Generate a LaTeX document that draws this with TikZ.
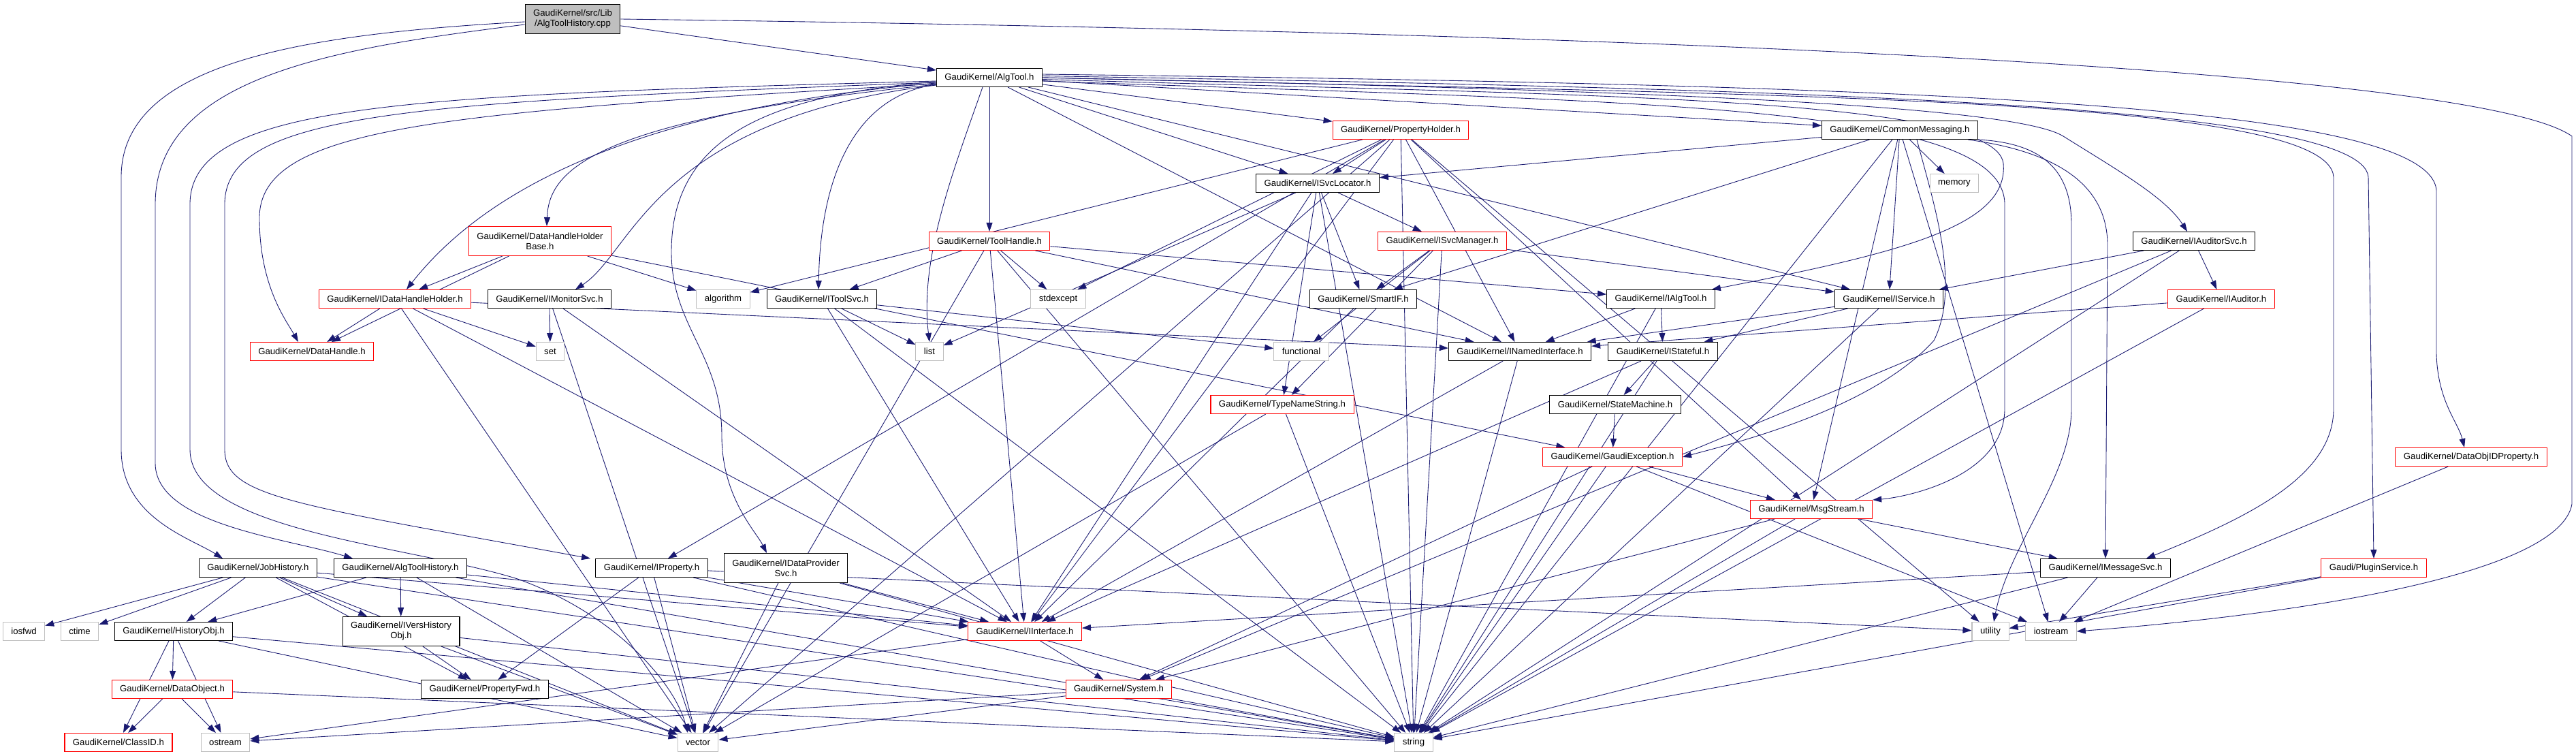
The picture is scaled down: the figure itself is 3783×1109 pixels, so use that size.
\documentclass[tikz,border=0pt]{standalone}
\usepackage{fontspec}
\setmainfont{Liberation Sans}
\usetikzlibrary{arrows.meta,backgrounds}
\definecolor{navy}{HTML}{191970}
\definecolor{boxgray}{HTML}{BFBFBF}
\begin{document}
\begin{tikzpicture}[x=0.02cm,y=-0.02cm,
  hdr/.style={draw=black,fill=white,line width=0.6pt,minimum height=0.54cm,inner xsep=0.24cm,inner ysep=0pt,align=center,font={\fontsize{7.5}{8.6}\selectfont}},
  redhdr/.style={hdr,draw=red},
  syshdr/.style={hdr,draw=boxgray},
  twoline/.style={minimum height=0.86cm},
  incl/.style={draw=navy,line width=0.5pt,-{Triangle[length=0.26cm,width=0.18cm]}}]
\useasboundingbox (0,0) rectangle (3783,1109);

\node[hdr,twoline,fill=boxgray] (root) at (841,28) {GaudiKernel/src/Lib\\/AlgToolHistory.cpp};
\node[hdr] (algtool) at (1453,114) {GaudiKernel/AlgTool.h};
\node[redhdr] (toolhandle) at (1453,354) {GaudiKernel/ToolHandle.h};
\node[redhdr] (propholder) at (2057,191) {GaudiKernel/PropertyHolder.h};
\node[hdr] (commsg) at (2790,191) {GaudiKernel/CommonMessaging.h};
\node[syshdr] (memory) at (2870,269) {memory};
\node[hdr] (svcloc) at (1935,269) {GaudiKernel/ISvcLocator.h};
\node[redhdr] (svcmgr) at (2118,354) {GaudiKernel/ISvcManager.h};
\node[hdr] (auditorsvc) at (3222,354) {GaudiKernel/IAuditorSvc.h};
\node[redhdr,twoline] (dhhbase) at (793,354) {GaudiKernel/DataHandleHolder\\Base.h};
\node[redhdr] (idhh) at (580,439) {GaudiKernel/IDataHandleHolder.h};
\node[hdr] (monsvc) at (807,439) {GaudiKernel/IMonitorSvc.h};
\node[redhdr] (datahandle) at (458,516) {GaudiKernel/DataHandle.h};
\node[syshdr] (set) at (808,516) {set};
\node[syshdr] (algorithm) at (1062,439) {algorithm};
\node[hdr] (toolsvc) at (1207,439) {GaudiKernel/IToolSvc.h};
\node[syshdr] (stdexcept) at (1554,439) {stdexcept};
\node[syshdr] (list) at (1365,516) {list};
\node[syshdr] (functional) at (1911,516) {functional};
\node[redhdr] (typename) at (1883,594) {GaudiKernel/TypeNameString.h};
\node[hdr] (smartif) at (2002,439) {GaudiKernel/SmartIF.h};
\node[hdr] (ialgtool) at (2439,439) {GaudiKernel/IAlgTool.h};
\node[hdr] (iservice) at (2774,439) {GaudiKernel/IService.h};
\node[hdr] (named) at (2232,516) {GaudiKernel/INamedInterface.h};
\node[hdr] (stateful) at (2442,516) {GaudiKernel/IStateful.h};
\node[hdr] (statemach) at (2372,594) {GaudiKernel/StateMachine.h};
\node[redhdr] (gexc) at (2368,671) {GaudiKernel/GaudiException.h};
\node[redhdr] (iauditor) at (3262,439) {GaudiKernel/IAuditor.h};
\node[redhdr] (dataobjid) at (3629,671) {GaudiKernel/DataObjIDProperty.h};
\node[redhdr] (msgstream) at (2660,748) {GaudiKernel/MsgStream.h};
\node[hdr] (msgsvc) at (3092,834) {GaudiKernel/IMessageSvc.h};
\node[redhdr] (plugin) at (3486,834) {Gaudi/PluginService.h};
\node[syshdr] (utility) at (2923,927) {utility};
\node[syshdr] (iostream) at (3012,927) {iostream};
\node[hdr] (jobhist) at (379,834) {GaudiKernel/JobHistory.h};
\node[hdr] (athist) at (588,834) {GaudiKernel/AlgToolHistory.h};
\node[hdr] (iprop) at (957,834) {GaudiKernel/IProperty.h};
\node[hdr,twoline] (dataprov) at (1154,834) {GaudiKernel/IDataProvider\\Svc.h};
\node[syshdr] (iosfwd) at (35,927) {iosfwd};
\node[syshdr] (ctime) at (117,927) {ctime};
\node[hdr] (histobj) at (255,927) {GaudiKernel/HistoryObj.h};
\node[hdr,twoline] (vershist) at (589,927) {GaudiKernel/IVersHistory\\Obj.h};
\node[redhdr] (iinterface) at (1505,927) {GaudiKernel/IInterface.h};
\node[redhdr] (dataobj) at (253,1012) {GaudiKernel/DataObject.h};
\node[hdr] (propfwd) at (712,1012) {GaudiKernel/PropertyFwd.h};
\node[redhdr] (system) at (1643,1012) {GaudiKernel/System.h};
\node[redhdr] (classid) at (174,1090) {GaudiKernel/ClassID.h};
\node[syshdr] (ostream) at (331,1090) {ostream};
\node[syshdr] (vector) at (1025,1090) {vector};
\node[syshdr] (string) at (2076,1090) {string};

\begin{scope}[on background layer]
\foreach \a/\b in {root/algtool,
  algtool/toolhandle, algtool/propholder, algtool/commsg, algtool/svcloc, algtool/iservice, algtool/named,
  toolhandle/toolsvc, toolhandle/stdexcept, toolhandle/ialgtool, toolhandle/named, toolhandle/vector, toolhandle/string, toolhandle/iinterface,
  propholder/svcloc, propholder/algorithm, propholder/stdexcept, propholder/iprop, propholder/iinterface, propholder/vector,
  propholder/string, propholder/msgstream, propholder/named, propholder/utility,
  commsg/svcloc, commsg/smartif, commsg/memory, commsg/iservice, commsg/msgstream, commsg/iostream, commsg/string,
  svcloc/svcmgr, svcloc/smartif, svcloc/list, svcloc/typename, svcloc/iinterface, svcloc/string,
  svcmgr/smartif, svcmgr/iservice, svcmgr/typename, svcmgr/string, svcmgr/functional,
  auditorsvc/iservice, auditorsvc/iauditor, auditorsvc/system, auditorsvc/string,
  iauditor/named, iauditor/string,
  ialgtool/named, ialgtool/stateful, ialgtool/string,
  iservice/named, iservice/stateful, iservice/string,
  stateful/statemach, stateful/iinterface, stateful/string,
  statemach/gexc, named/iinterface, named/string,
  gexc/system, gexc/string, gexc/iostream, gexc/msgstream,
  msgstream/msgsvc, msgstream/string, msgstream/system,
  msgsvc/iinterface, msgsvc/iostream, msgsvc/string,
  plugin/utility, plugin/string, dataobjid/iostream,
  typename/string, typename/vector, smartif/iinterface,
  toolsvc/list, toolsvc/functional, toolsvc/iinterface, toolsvc/string,
  idhh/datahandle, idhh/set, idhh/named, idhh/iinterface, idhh/vector,
  monsvc/set, monsvc/iinterface, monsvc/vector,
  dhhbase/idhh, dhhbase/datahandle, dhhbase/algorithm, dhhbase/gexc,
  iprop/iinterface, iprop/propfwd, iprop/vector, iprop/string, iprop/utility,
  dataprov/iinterface, dataprov/vector, dataprov/string,
  jobhist/iosfwd, jobhist/ctime, jobhist/histobj, jobhist/vershist, jobhist/propfwd, jobhist/vector, jobhist/string, jobhist/iinterface,
  athist/histobj, athist/vershist, athist/vector, athist/string, athist/iinterface,
  histobj/dataobj, histobj/classid, histobj/ostream, histobj/vector, histobj/string,
  vershist/propfwd, vershist/vector, vershist/string,
  dataobj/classid, dataobj/ostream, dataobj/string,
  iinterface/system, iinterface/ostream,
  system/string, system/vector, system/ostream}
  \draw[incl] (\a) -- (\b);

\draw[incl] ([yshift=-0.08cm]root.west) .. controls (450,50) and (178,90) .. (178,260) -- (178,660) .. controls (178,760) and (280,790) .. ([xshift=-1.04cm]jobhist.north);
\draw[incl] ([yshift=-0.16cm]root.west) .. controls (500,70) and (228,110) .. (228,300) -- (228,680) .. controls (228,770) and (420,790) .. ([xshift=-1.4cm]athist.north);
\draw[incl] (root.east) .. controls (2600,50) and (3650,110) .. (3777,200) -- (3777,740) .. controls (3760,840) and (3400,900) .. (iostream.east);
\draw[incl] ([yshift=-0.1cm]algtool.west) .. controls (600,140) and (279,150) .. (279,300) -- (279,660) .. controls (279,780) and (600,800) .. (760,850) .. controls (900,900) and (990,1000) .. ([xshift=-0.3cm]vector.north);
\draw[incl] ([yshift=-0.14cm]algtool.west) .. controls (600,150) and (330,165) .. (330,300) -- (330,660) .. controls (330,730) and (430,740) .. ([xshift=-1.8cm]iprop.north);
\draw[incl] ([yshift=-0.18cm]algtool.west) .. controls (650,165) and (381,185) .. (381,320) .. controls (381,420) and (420,470) .. ([xshift=-0.4cm]datahandle.north);
\draw[incl] ([yshift=-0.2cm]algtool.west) .. controls (870,175) and (806,250) .. ([xshift=0.2cm]dhhbase.north);
\draw[incl] ([yshift=-0.16cm]algtool.west) .. controls (860,165) and (680,320) .. ([xshift=0.34cm]idhh.north);
\draw[incl] ([yshift=-0.22cm]algtool.west) .. controls (960,175) and (930,370) .. ([xshift=0.76cm]monsvc.north);
\draw[incl] ([yshift=-0.12cm]algtool.west) .. controls (1130,140) and (986,200) .. (986,370) .. controls (986,480) and (1060,520) .. (1060,640) .. controls (1060,730) and (1110,780) .. ([xshift=-0.56cm]dataprov.north);
\draw[incl] ([yshift=-0.2cm]algtool.west) .. controls (1260,140) and (1205,250) .. ([xshift=-0.1cm]toolsvc.north);
\draw[incl] ([xshift=-0.2cm]algtool.south) .. controls (1400,250) and (1350,380) .. (list.north);
\draw[incl] (algtool.east) .. controls (2300,130) and (2950,150) .. (3030,200) .. controls (3110,250) and (3180,290) .. ([xshift=-0.2cm]auditorsvc.north);
\draw[incl] ([yshift=0.05cm]algtool.east) .. controls (2600,130) and (3470,150) .. (3478,260) -- (plugin.north);
\draw[incl] ([yshift=0.1cm]algtool.east) .. controls (2800,125) and (3570,150) .. (3578,280) -- (3578,520) .. controls (3580,590) and (3610,620) .. ([xshift=-0.2cm]dataobjid.north);
\draw[incl] (algtool.east) .. controls (2600,140) and (3420,140) .. (3427,260) -- (3427,600) .. controls (3427,700) and (3300,760) .. ([xshift=1.2cm]msgsvc.north);
\draw[incl] ([yshift=-0.05cm]algtool.east) .. controls (2300,140) and (2930,140) .. (2942,240) .. controls (2950,330) and (2800,370) .. ([xshift=-0.1cm]ialgtool.north east);
\draw[incl] ([yshift=-0.1cm]algtool.east) .. controls (2400,150) and (2944,150) .. (2944,300) -- (2944,600) .. controls (2944,700) and (2800,730) .. (msgstream.north east);
\draw[incl] (commsg.south east) .. controls (3000,210) and (3042,250) .. (3042,330) -- (3042,600) .. controls (3042,700) and (2950,800) .. ([xshift=0.1cm]utility.north);
\draw[incl] ([xshift=-0.3cm]commsg.south east) .. controls (3000,220) and (3095,260) .. (3095,360) -- (msgsvc.north);
\draw[incl] ([xshift=0.5cm]commsg.south) .. controls (2840,300) and (2880,420) .. (2840,500) .. controls (2750,600) and (2550,650) .. (gexc.east);
\end{scope}
\end{tikzpicture}
\end{document}
